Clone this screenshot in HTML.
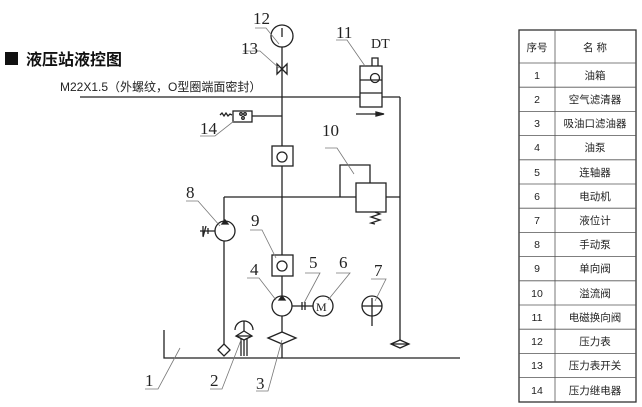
<!DOCTYPE html>
<html><head><meta charset="utf-8"><style>
html,body{margin:0;padding:0;background:#fff;}
svg{display:block;}
.n{font-family:"Liberation Serif",serif;font-size:17px;fill:#222;}
</style></head><body>
<svg width="642" height="407" viewBox="0 0 642 407" xmlns="http://www.w3.org/2000/svg">
<g font-family="'Liberation Sans','Noto Sans CJK SC',sans-serif">
<rect x="5" y="52" width="13" height="13" fill="#111"/>
<text x="26" y="65" font-size="16" font-weight="bold" fill="#111">液压站液控图</text>
<text x="60" y="91" font-size="12" fill="#222">M22X1.5（外螺纹，O型圈端面密封）</text>
</g>
<g stroke="#222" stroke-width="1.3" fill="none">
<!-- main lines -->
<line x1="80" y1="97" x2="400" y2="97"/>
<line x1="400" y1="97" x2="400" y2="340"/>
<line x1="282" y1="47" x2="282" y2="146"/>
<line x1="282" y1="166" x2="282" y2="255"/>
<line x1="282" y1="276" x2="282" y2="296"/>
<line x1="282" y1="316" x2="282" y2="332"/>
<line x1="224" y1="197" x2="400" y2="197"/>
<line x1="224" y1="197" x2="224" y2="344"/>
<!-- 12 gauge -->
<circle cx="282" cy="36" r="11"/>
<line x1="282" y1="28" x2="282" y2="37"/>
<!-- 13 valve -->
<path d="M277,64 L287,74 L287,64 L277,74 Z" fill="#fff"/>
<!-- 11 -->
<rect x="360" y="66" width="22" height="41" fill="#fff"/>
<line x1="360" y1="80" x2="382" y2="80"/><line x1="360" y1="93" x2="382" y2="93"/>
<circle cx="375" cy="78" r="4.5"/>
<path d="M372,66 V58 H378 V66"/>
<line x1="356" y1="114" x2="382" y2="114"/>
<path d="M376,112 L384,114 L376,116Z" fill="#222"/>
<!-- 14 -->
<rect x="233" y="111" width="19" height="11" fill="#fff"/>
<line x1="252" y1="116" x2="282" y2="116"/>
<path d="M220,115 l2,-2 l2,3 l2,-3 l2,3 l2,-2 l2,1"/>
<circle cx="241" cy="114" r="1.3"/><circle cx="245" cy="114" r="1.3"/><circle cx="243" cy="118" r="1.3"/>
<!-- check valve upper -->
<rect x="272" y="146" width="21" height="20"/>
<circle cx="282" cy="157" r="5"/>
<!-- 10 -->
<path d="M340,197 V165 H370 V183"/>
<rect x="356" y="183" width="30" height="29" fill="#fff"/>
<path d="M375,212 l5,2 l-9,3 l9,3 l-9,3 l4,1"/>
<!-- 8 -->
<circle cx="225" cy="231" r="10" fill="#fff"/>
<path d="M222,224 L225,220 L228,224Z" fill="#222"/>
<path d="M215,231 H200 M203,226 V236 M206,226 L203,237 M208,228 V234"/>
<!-- 9 -->
<rect x="272" y="255" width="21" height="21"/>
<circle cx="282" cy="266" r="5"/>
<!-- 4 pump -->
<circle cx="282" cy="306" r="10" fill="#fff"/>
<path d="M279,300 L282,296 L285,300Z" fill="#222"/>
<line x1="292" y1="306" x2="313" y2="306"/>
<line x1="302" y1="302" x2="302" y2="310"/><line x1="305" y1="302" x2="305" y2="310"/>
<!-- 6 motor -->
<circle cx="323" cy="306" r="10" fill="#fff"/>
<!-- 7 -->
<circle cx="372" cy="306" r="10"/>
<line x1="362" y1="306" x2="382" y2="306"/>
<line x1="372" y1="306" x2="372" y2="326"/>
<line x1="372" y1="298" x2="372" y2="306"/>
<!-- tank -->
<path d="M164,330 V358 H460"/>
<path d="M218,350 L224,344 L230,350 L224,356Z" fill="#fff"/>
<path d="M268,338 L282,332 L296,338 L282,344Z" fill="#fff"/>
<line x1="282" y1="344" x2="282" y2="358"/>
<path d="M391,344 L400,340 L409,344 L400,348Z" fill="#fff"/>
<line x1="391" y1="344" x2="409" y2="344"/>
<!-- 2 air filter -->
<path d="M235,330 A9,9 0 0 1 253,330"/>
<line x1="244" y1="321" x2="244" y2="356"/>
<line x1="241" y1="338" x2="241" y2="356"/><line x1="247" y1="338" x2="247" y2="356"/>
<path d="M236,336 L244,331 L252,336 L244,340Z" fill="#fff"/>
<line x1="236" y1="336" x2="252" y2="336"/>
</g>
<text x="316" y="311" font-family="Liberation Serif" font-size="12" fill="#222">M</text>
<!-- leaders -->
<g stroke="#777" stroke-width="0.8" fill="none">
<path d="M255,28 H266 L279,44"/>
<path d="M243,51 H260 L279,68"/>
<path d="M336,40 H347 L365,66"/>
<path d="M200,136 H215 L234,121"/>
<path d="M325,148 H337 L354,174"/>
<path d="M186,201 H198 L220,226"/>
<path d="M250,230 H262 L276,258"/>
<path d="M247,278 H259 L276,300"/>
<path d="M305,273 H320 L304,303"/>
<path d="M336,273 H350 L328,300"/>
<path d="M371,279 H386 L375,301"/>
<path d="M145,389 H158 L180,348"/>
<path d="M210,389 H222 L241,340"/>
<path d="M256,391 H268 L282,340"/>
</g>
<g class="n">
<text x="253" y="24">12</text>
<text x="241" y="54">13</text>
<text x="336" y="38">11</text>
<text x="371" y="48" font-size="14">DT</text>
<text x="200" y="134">14</text>
<text x="322" y="136">10</text>
<text x="186" y="198">8</text>
<text x="251" y="226">9</text>
<text x="250" y="275">4</text>
<text x="309" y="268">5</text>
<text x="339" y="268">6</text>
<text x="374" y="276">7</text>
<text x="145" y="386">1</text>
<text x="210" y="386">2</text>
<text x="256" y="389">3</text>
</g>
<!-- table -->
<g font-family="'Liberation Sans','Noto Sans CJK SC',sans-serif" font-size="10.5" fill="#222" text-anchor="middle">
<rect x="519" y="30" width="117" height="372" fill="none" stroke="#333" stroke-width="1.3"/>
<line x1="555" y1="30" x2="555" y2="402" stroke="#555" stroke-width="0.8"/>
<g stroke="#555" stroke-width="0.8">
<line x1="519" y1="63" x2="636" y2="63"/>
<line x1="519" y1="87.2" x2="636" y2="87.2"/>
<line x1="519" y1="111.4" x2="636" y2="111.4"/>
<line x1="519" y1="135.6" x2="636" y2="135.6"/>
<line x1="519" y1="159.8" x2="636" y2="159.8"/>
<line x1="519" y1="184" x2="636" y2="184"/>
<line x1="519" y1="208.2" x2="636" y2="208.2"/>
<line x1="519" y1="232.4" x2="636" y2="232.4"/>
<line x1="519" y1="256.6" x2="636" y2="256.6"/>
<line x1="519" y1="280.8" x2="636" y2="280.8"/>
<line x1="519" y1="305" x2="636" y2="305"/>
<line x1="519" y1="329.2" x2="636" y2="329.2"/>
<line x1="519" y1="353.4" x2="636" y2="353.4"/>
<line x1="519" y1="377.6" x2="636" y2="377.6"/>
</g>
<text x="537" y="51">序号</text><text x="595" y="51">名 称</text>
<text x="537" y="79">1</text><text x="595" y="79">油箱</text>
<text x="537" y="103">2</text><text x="595" y="103">空气滤清器</text>
<text x="537" y="127">3</text><text x="595" y="127">吸油口滤油器</text>
<text x="537" y="151">4</text><text x="595" y="151">油泵</text>
<text x="537" y="176">5</text><text x="595" y="176">连轴器</text>
<text x="537" y="200">6</text><text x="595" y="200">电动机</text>
<text x="537" y="224">7</text><text x="595" y="224">液位计</text>
<text x="537" y="248">8</text><text x="595" y="248">手动泵</text>
<text x="537" y="272">9</text><text x="595" y="272">单向阀</text>
<text x="537" y="297">10</text><text x="595" y="297">溢流阀</text>
<text x="537" y="321">11</text><text x="595" y="321">电磁换向阀</text>
<text x="537" y="345">12</text><text x="595" y="345">压力表</text>
<text x="537" y="369">13</text><text x="595" y="369">压力表开关</text>
<text x="537" y="394">14</text><text x="595" y="394">压力继电器</text>
</g>
</svg>
</body></html>
